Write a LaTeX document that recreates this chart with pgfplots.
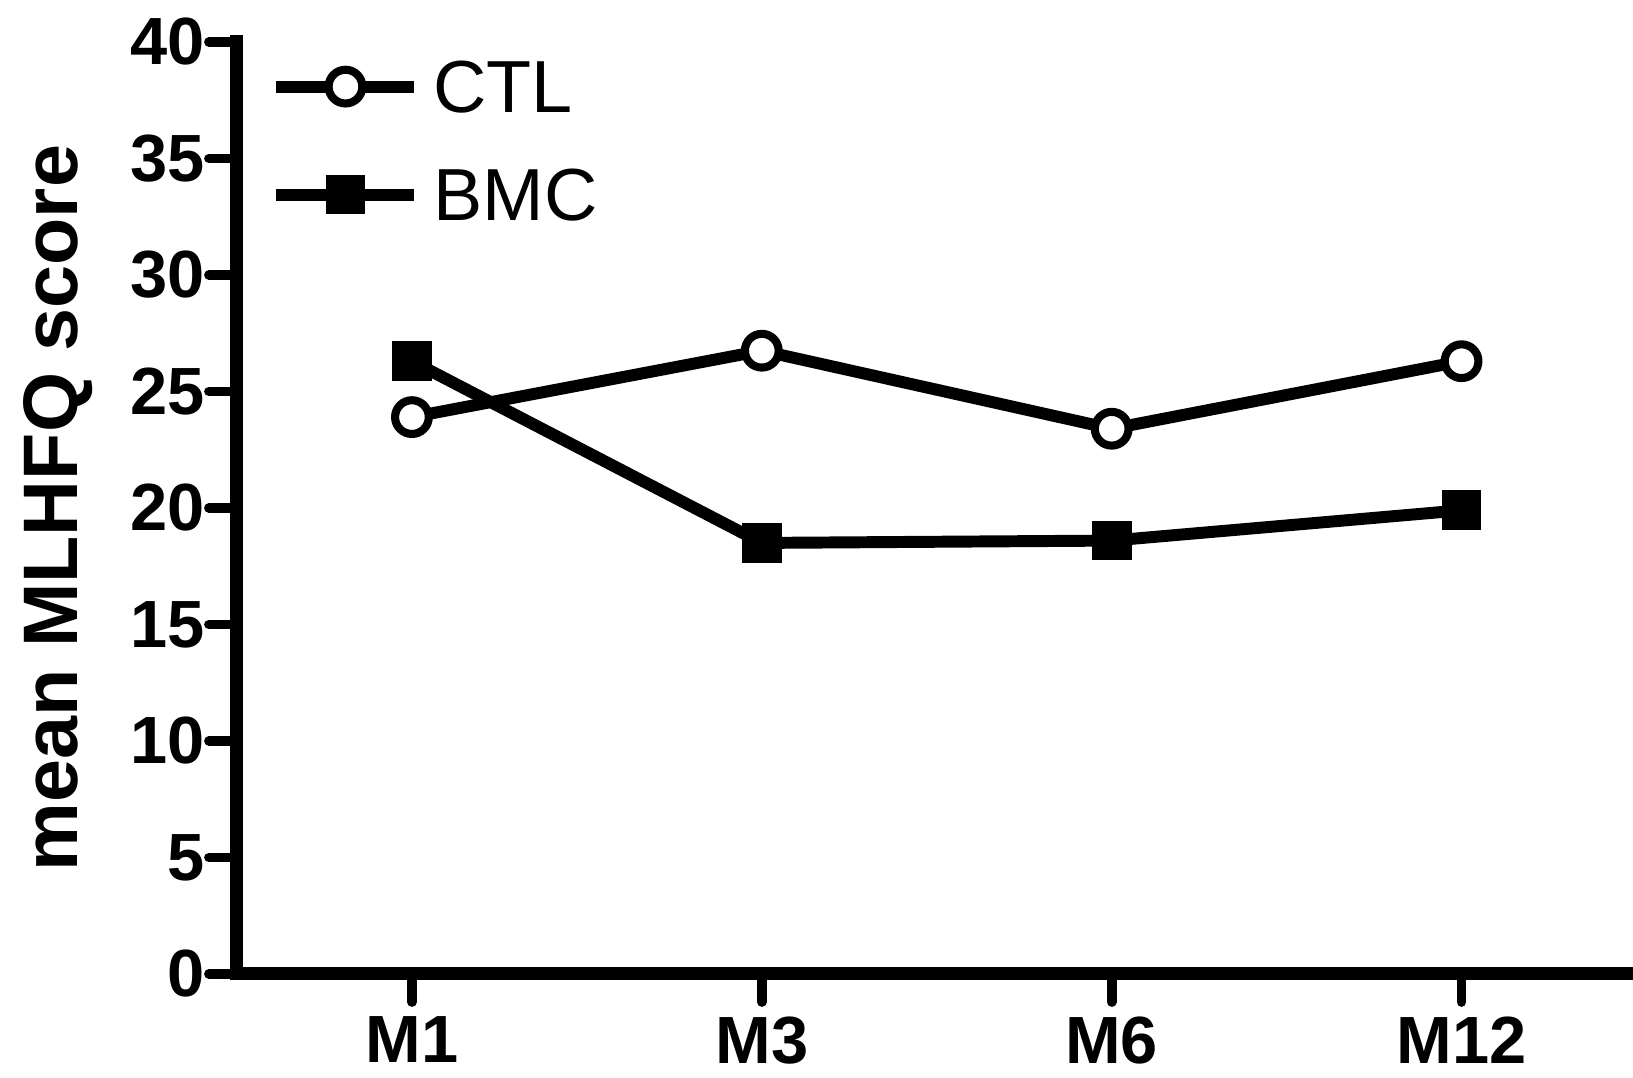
\documentclass[border=0pt]{standalone}
\usepackage{fontspec}
\setmainfont{Liberation Sans}
\usepackage{pgfplots}
\pgfplotsset{compat=1.18}

\begin{document}
\begin{tikzpicture}
\useasboundingbox (-23.7mm,-10.4mm) rectangle (139.6mm,97.4mm);
\begin{axis}[
    scale only axis,
    width=139.6mm, height=93.2mm,
    xmin=0.5, xmax=4.49,
    ymin=0, ymax=40,
    axis lines=left,
    axis line style={-, line width=3.7pt, line cap=rect},
    xtick={1,2,3,4},
    xticklabels={M1,M3,M6,M12},
    ytick={0,5,...,40},
    tick align=outside,
    major tick length=2.8mm,
    tick style={line width=2.8pt, black, line cap=round},
    /pgf/number format/assume math mode=true,
    ticklabel style={font=\fontsize{19}{19}\selectfont\bfseries},
    yticklabel style={inner sep=0pt, anchor=east, xshift=-0.4mm},
    xticklabel style={inner sep=0pt, anchor=north, yshift=-1.4mm},
    ylabel={mean MLHFQ score},
    ylabel style={at={(axis description cs:-0.114,0.5)}, anchor=base,
        font=\fontsize{22}{22}\selectfont\bfseries},
    legend style={draw=none, fill=none, inner sep=0pt, outer sep=0pt,
        at={(axis description cs:0.024,0.98)}, anchor=north west,
        font=\fontsize{21}{21}\selectfont,
        nodes={inner sep=0pt, outer sep=0pt, text height=5.2mm, text depth=0pt},
        cells={anchor=west},
        row sep=5.6mm, column sep=1.3mm},
    legend image code/.code={
        \draw[#1, mark repeat=2, mark phase=2]
            plot coordinates {(0mm,0mm) (6.9mm,0mm) (13.8mm,0mm)};
    },
]
\addplot[black, line width=3.4pt, mark=*,
    mark size=4.8pt, mark options={fill=white, draw=black, line width=2.3pt}]
    coordinates {(1,23.9) (2,26.75) (3,23.4) (4,26.3)};
\addlegendentry{CTL}
\addplot[black, line width=3.4pt, mark=square*,
    mark size=5.4pt, mark options={fill=black, draw=black, line width=0.5pt}]
    coordinates {(1,26.3) (2,18.5) (3,18.6) (4,19.9)};
\addlegendentry{BMC}
\end{axis}
\end{tikzpicture}
\end{document}
